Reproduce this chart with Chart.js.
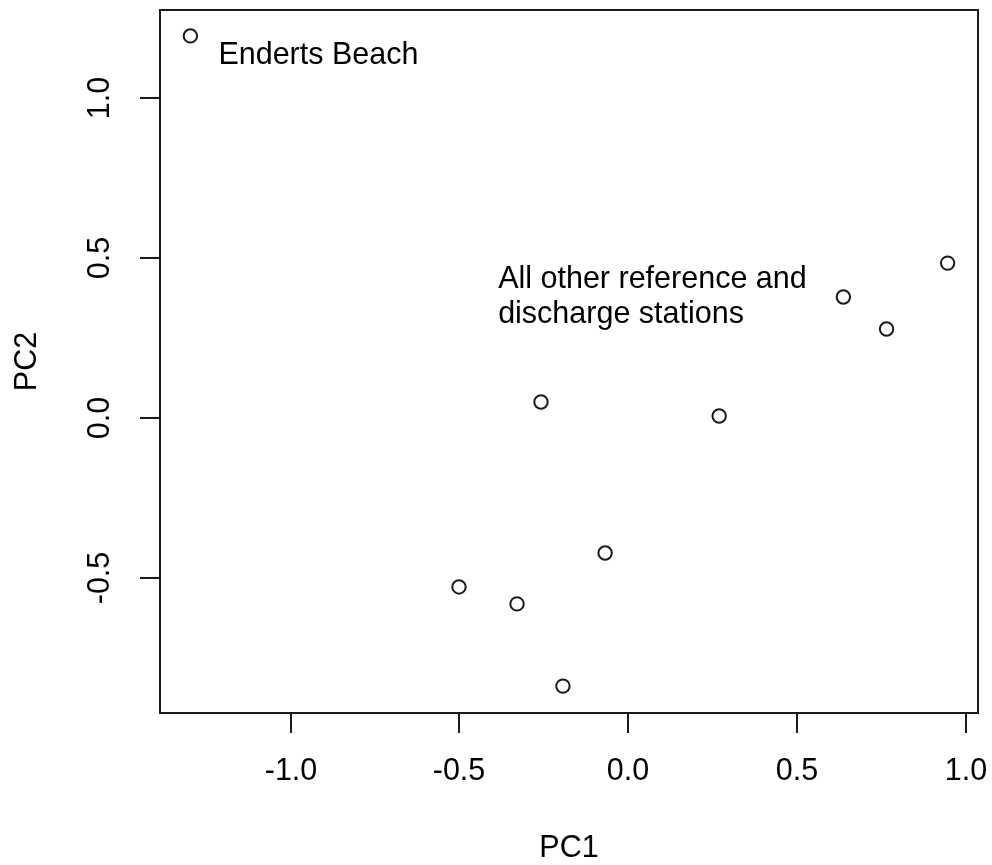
<!DOCTYPE html>
<html>
<head>
<meta charset="utf-8">
<script src="https://cdn.jsdelivr.net/npm/chart.js@4/dist/chart.umd.min.js"></script>
<style>
  html, body { margin: 0; padding: 0; background: #fff; }
  #wrap { width: 992px; height: 865px; }
</style>
</head>
<body>
<div id="wrap"><canvas id="pca" width="992" height="865"></canvas></div>
<script>
// PCA scores
const pc1 = [-1.297, 0.947, 0.638, 0.766, -0.258, 0.270, -0.068, -0.501, -0.329, -0.193];
const pc2 = [1.194, 0.484, 0.378, 0.278, 0.050, 0.006, -0.422, -0.528, -0.581, -0.838];

const xTicks = [-1.0, -0.5, 0.0, 0.5, 1.0];
const yTicks = [-0.5, 0.0, 0.5, 1.0];

// R-style 4% padding around the data range
const xRange = [-1.387, 1.037];
const yRange = [-0.922, 1.275];

const FONT = '"Liberation Sans", Arial, sans-serif';
const INK = '#1a1a1a';

const points = pc1.map((x, i) => ({ x: x, y: pc2[i] }));

// text labels in data units
const notes = [
    { x: -1.214, y: 1.134, lines: ['Enderts Beach'] },
    { x: -0.385, y: 0.433, lines: ['All other reference and', 'discharge stations'] }
];

// base-graphics look: box, outward ticks, rotated y labels
const rAxes = {
    id: 'rAxes',
    afterDraw(chart) {
        const { ctx, chartArea: a, scales } = chart;
        const xs = scales.x, ys = scales.y;
        ctx.save();
        ctx.strokeStyle = INK;
        ctx.fillStyle = '#000';
        ctx.lineWidth = 2;
        ctx.strokeRect(a.left, a.top, a.right - a.left, a.bottom - a.top);

        ctx.font = '30.5px ' + FONT;
        ctx.textAlign = 'center';
        ctx.textBaseline = 'middle';

        xTicks.forEach(v => {
            const px = Math.round(xs.getPixelForValue(v));
            ctx.beginPath();
            ctx.moveTo(px, a.bottom);
            ctx.lineTo(px, a.bottom + 20);
            ctx.stroke();
            ctx.fillText(v.toFixed(1), px, a.bottom + 59);
        });

        yTicks.forEach(v => {
            const py = Math.round(ys.getPixelForValue(v));
            ctx.beginPath();
            ctx.moveTo(a.left, py);
            ctx.lineTo(a.left - 20, py);
            ctx.stroke();
            ctx.save();
            ctx.translate(a.left - 59, py);
            ctx.rotate(-Math.PI / 2);
            ctx.fillText(v.toFixed(1), 0, 0);
            ctx.restore();
        });

        // axis titles
        ctx.fillText('PC1', (a.left + a.right) / 2, a.bottom + 136);
        ctx.save();
        ctx.translate(28, (a.top + a.bottom) / 2);
        ctx.rotate(-Math.PI / 2);
        ctx.fillText('PC2', 0, 0);
        ctx.restore();

        // annotations
        ctx.textAlign = 'left';
        notes.forEach(n => {
            const nx = xs.getPixelForValue(n.x);
            const ny = ys.getPixelForValue(n.y);
            n.lines.forEach((t, i) => ctx.fillText(t, nx, ny + i * 35));
        });
        ctx.restore();
    }
};

new Chart(document.getElementById('pca'), {
    type: 'scatter',
    data: {
        datasets: [{
            label: 'Stations',
            data: points,
            pointStyle: 'circle',
            pointRadius: 6.7,
            pointHoverRadius: 6.7,
            pointBorderWidth: 2,
            borderColor: INK,
            backgroundColor: 'rgba(0,0,0,0)'
        }]
    },
    options: {
        responsive: false,
        devicePixelRatio: 1,
        animation: false,
        layout: { padding: { left: 160, top: 10, right: 14, bottom: 152 } },
        scales: {
            x: { type: 'linear', display: false, min: xRange[0], max: xRange[1] },
            y: { type: 'linear', display: false, min: yRange[0], max: yRange[1] }
        },
        plugins: {
            legend: { display: false },
            tooltip: { enabled: false }
        }
    },
    plugins: [rAxes]
});
</script>
</body>
</html>
